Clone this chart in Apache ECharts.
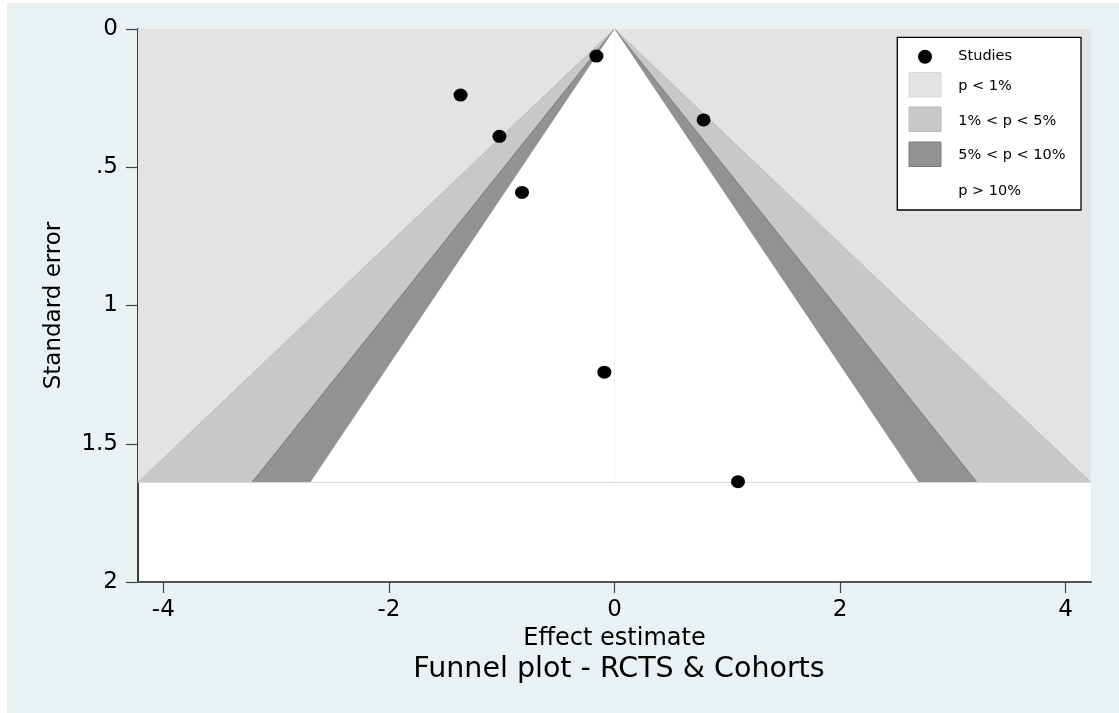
<!DOCTYPE html>
<html><head><meta charset="utf-8">
<script src="https://cdn.jsdelivr.net/npm/echarts@6/dist/echarts.min.js"></script>
<style>html,body{margin:0;padding:0;background:#fff;overflow:hidden;}#c{position:absolute;left:7px;top:3px;width:1112px;height:710px;}</style>
</head><body><div id="c"></div>
<script>
// ---- data ----
const effect = [-0.16, -1.365, -1.02, -0.82, 0.79, -0.09, 1.095];
const stdErr = [0.098, 0.239, 0.388, 0.591, 0.329, 1.241, 1.637];
const seMax = 1.64;
const zCrit = [2.576, 1.96, 1.645];          // 1%, 5%, 10% two-sided
const regionNames = ['p < 1%', '1% < p < 5%', '5% < p < 10%', 'p > 10%'];
const regionColors = ['#e3e3e3', '#c8c8c8', '#929292', '#ffffff'];
const regionEdges = [null, '#bcbcbc', '#7a7a7a', null];
const legendLabels = ['Studies'].concat(regionNames);
const xTicks = [-4, -2, 0, 2, 4];
const yTicks = [0, 0.5, 1, 1.5, 2];
const yTickLabels = ['0', '.5', '1', '1.5', '2'];
const titleText = 'Funnel plot - RCTS & Cohorts';
const xTitle = 'Effect estimate';
const yTitle = 'Standard error';

const FONT = 'DejaVu Sans';
const xLim = zCrit[0] * seMax;

const chart = echarts.init(document.getElementById('c'), null, {renderer: 'canvas'});

function renderRegion(params, api) {
  const i = params.dataIndex;
  if (i === 0) {
    const pts = [api.coord([-xLim, 0]), api.coord([xLim, 0]), api.coord([xLim, seMax]), api.coord([-xLim, seMax])];
    return {type: 'polygon', shape: {points: pts}, style: {fill: regionColors[0]}};
  }
  const z = zCrit[i - 1];
  const L = api.coord([-z * seMax, seMax]), A = api.coord([0, 0]), R = api.coord([z * seMax, seMax]);
  const children = [{type: 'polygon', shape: {points: [L, A, R]}, style: {fill: regionColors[i]}}];
  if (regionEdges[i]) {
    children.push({type: 'polyline', shape: {points: [L, A, R]}, style: {fill: null, stroke: regionEdges[i], lineWidth: 1}});
  }
  return {type: 'group', children: children};
}

// legend (graphic, flat)
const lgX = 890.3, lgY = 34.3, lgW = 183.7, lgH = 172.7;
const rowY = [53.7, 83.7, 118.7, 152.7, 188];
const sqY = [69.5, 104, 139];
const sqStroke = ['#d6d6d6', '#b8b8b8', '#7a7a7a'];
const graphics = [];
graphics.push({type: 'rect', z: 100, shape: {x: lgX, y: lgY, width: lgW, height: lgH}, style: {fill: '#fff', stroke: '#000', lineWidth: 1.3}});
graphics.push({type: 'circle', z: 101, shape: {cx: 918, cy: rowY[0], r: 7}, style: {fill: '#000'}});
for (let k = 0; k < 3; k++) {
  graphics.push({type: 'rect', z: 101, shape: {x: 902, y: sqY[k], width: 32, height: 24.5},
    style: {fill: regionColors[k], stroke: sqStroke[k], lineWidth: 1}});
}
legendLabels.forEach((t, k) => {
  graphics.push({type: 'text', z: 101, x: 951.3, y: rowY[k], style: {text: t, fill: '#000', font: '14.5px "' + FONT + '"', verticalAlign: 'middle', align: 'left'}});
});
graphics.push({type: 'text', z: 100, x: 612, y: 667, style: {text: titleText, fill: '#000', font: '28.5px "' + FONT + '"', align: 'center', verticalAlign: 'middle'}});

const option = {
  backgroundColor: '#e9f1f3',
  animation: false,
  grid: {left: 131, top: 26, right: 28, bottom: 131, show: true, backgroundColor: '#ffffff', borderWidth: 0},
  xAxis: {
    type: 'value', min: -xLim, max: xLim,
    axisLine: {show: true, onZero: false, lineStyle: {color: '#555', width: 2}},
    axisTick: {show: true, length: 11, customValues: xTicks, lineStyle: {color: '#444', width: 1.2}},
    axisLabel: {customValues: xTicks, fontFamily: FONT, fontSize: 23, color: '#000', margin: 17},
    splitLine: {show: false},
    name: xTitle, nameLocation: 'middle', nameGap: 41,
    nameTextStyle: {fontFamily: FONT, fontSize: 24, color: '#000'}
  },
  yAxis: {
    type: 'value', inverse: true, min: 0, max: 2, interval: 0.5,
    axisLine: {show: true, onZero: false, lineStyle: {color: '#000', width: 1.5}},
    axisTick: {show: true, length: 12, lineStyle: {color: '#444', width: 1.2}},
    axisLabel: {fontFamily: FONT, fontSize: 23, color: '#000', margin: 20,
      formatter: v => { const j = yTicks.indexOf(v); return j >= 0 ? yTickLabels[j] : ''; }},
    splitLine: {show: false},
    name: yTitle, nameLocation: 'middle', nameGap: 72, nameRotate: 90,
    nameTextStyle: {fontFamily: FONT, fontSize: 23, color: '#000'}
  },
  graphic: graphics,
  series: [
    {type: 'custom', name: 'regions', silent: true, z: 1, clip: true,
     encode: {x: 0, y: 1},
     data: regionNames.map((n, i) => ({name: n, value: [0, 0, i]})),
     renderItem: renderRegion},
    {type: 'line', silent: true, z: 2, symbol: 'none', data: [[-xLim, seMax], [xLim, seMax]],
     lineStyle: {color: '#dcdcdc', width: 1}},
    {type: 'line', silent: true, z: 2, symbol: 'none', data: [[0, 0], [0, seMax]],
     lineStyle: {color: '#f4f4f4', width: 1}},
    {type: 'scatter', name: 'Studies', z: 3, symbol: 'circle', symbolSize: [14, 13],
     itemStyle: {color: '#000', opacity: 1},
     data: effect.map((e, i) => [e, stdErr[i]])}
  ]
};
chart.setOption(option);
</script></body></html>
